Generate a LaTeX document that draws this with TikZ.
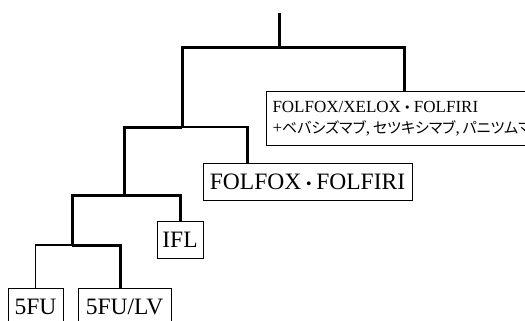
\documentclass[tikz,border=0pt]{standalone}
\usepackage{fontspec}
\setmainfont{Liberation Serif}
\newfontfamily\jpfont[RawFeature=+palt]{Noto Sans CJK JP}
\newfontfamily\jpdot{Noto Sans CJK JP Bold}
\newcommand\nakaguro[1]{{\jpdot\fontsize{#1}{#1}\selectfont ・}}
\newcommand\kana[1]{{\jpfont\fontsize{15}{20}\selectfont #1}}
\begin{document}
\begin{tikzpicture}[
x=1pt,y=-1pt,
drug/.style={draw,line width=1pt,inner sep=0pt,
font=\fontsize{23.5}{26}\selectfont,minimum height=37pt},
combo/.style={draw,line width=1pt,inner xsep=6pt,inner ysep=4pt,align=left,
font=\fontsize{17}{20.5}\selectfont,minimum height=53pt},
main/.style={line width=3pt},
side/.style={line width=2.2pt},
thin/.style={line width=1.2pt}
]
\useasboundingbox (0,0) rectangle (525,321);
\node[combo,anchor=west] (mab) at (266,118.5)
{FOLFOX/XELOX\nakaguro{13}FOLFIRI\\
+\kana{ベバシズマブ},\,\kana{セツキシマブ},\,\kana{パニツムマブ}};
\node[drug,minimum width=209pt] (ff) at (307.5,181.5) {FOLFOX\nakaguro{15}FOLFIRI};
\node[drug,minimum width=46pt] (ifl) at (180,240) {IFL};
\node[drug,minimum width=55pt] (fu) at (35.5,306.5) {5FU};
\node[drug,minimum width=93pt] (fulv) at (124.5,306.5) {5FU/LV};

\coordinate (root) at (279,13);
\coordinate (j1) at (279,48);
\coordinate (j2) at (182,127);
\coordinate (j3) at (124,195);
\coordinate (j4) at (72,245);

\draw[main] (root) -- (j1) -| (j2);
\draw[main] (j1) -| ([xshift=138pt]mab.north west);
\draw[main] (j2) -| (j3);
\draw[side] (j2) -| ([xshift=45pt]ff.north west);
\draw[main] (j3) -| (j4);
\draw[main] (j3) -| (ifl.north);
\draw[main] (j4) -| ([xshift=-4pt]fulv.north);
\draw[thin] (j4) -| (fu.north);
\end{tikzpicture}
\end{document}
